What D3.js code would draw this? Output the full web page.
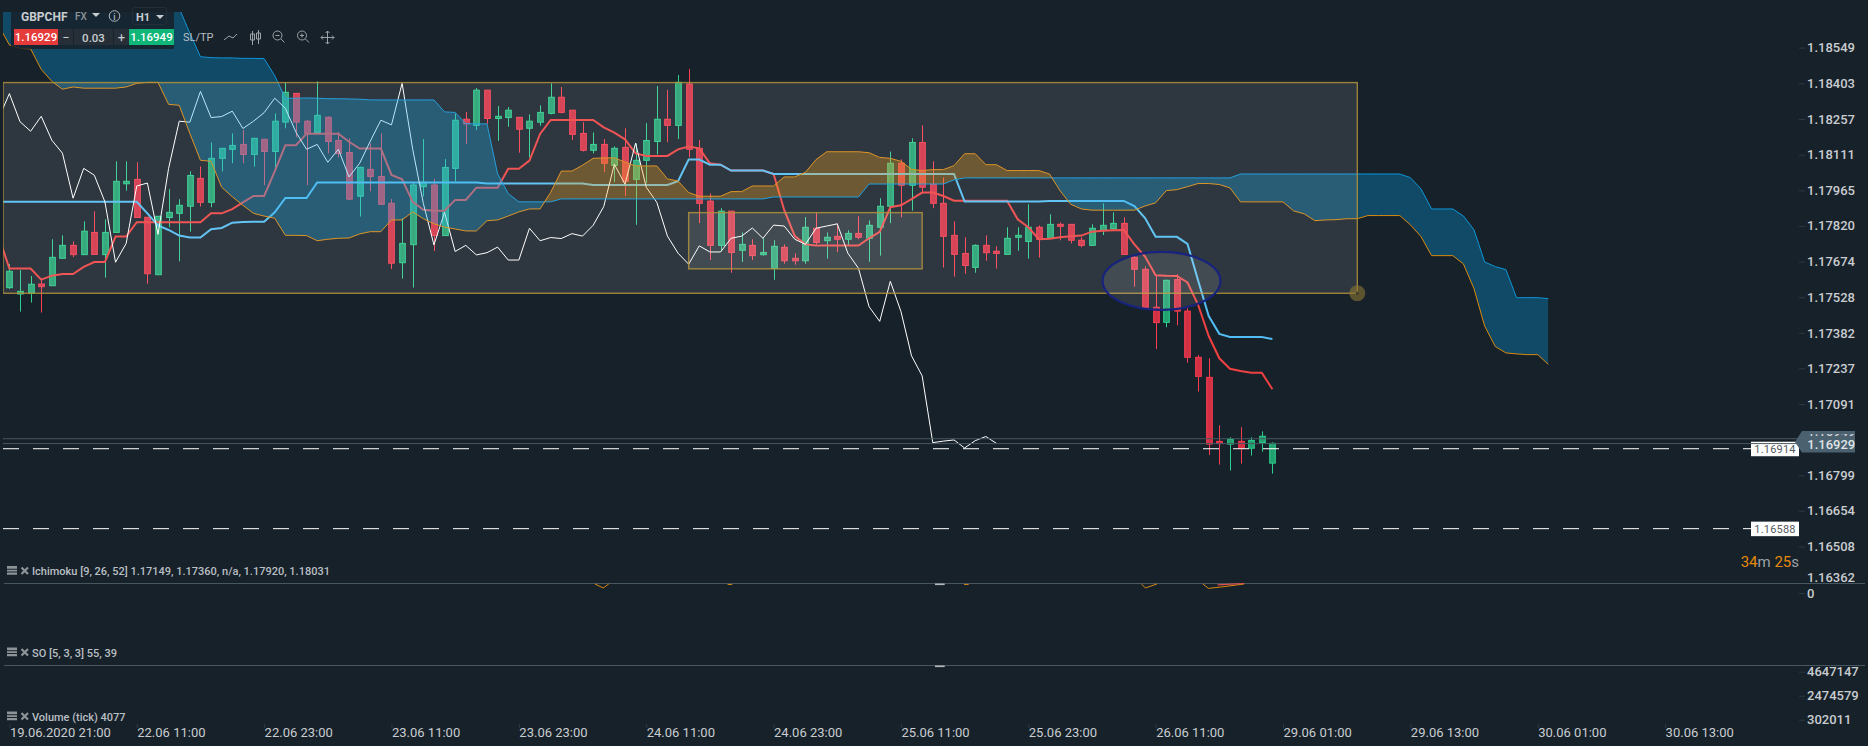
<!DOCTYPE html>
<html>
<head>
<meta charset="utf-8">
<script src="https://cdn.jsdelivr.net/npm/d3@7"></script>
<style>
    html, body { margin: 0; padding: 0; background: #17212a; overflow: hidden; }
    svg { display: block; }
    text { font-family: Roboto, sans-serif; }
</style>
</head>
<body>
<svg></svg>
<script>
// Defining variables
const width = 1868
const height = 746

// H1 candles, bar 0 is 19.06.2020 21:00
const opens = [1.17567,1.17541,1.17544,1.17582,1.17575,1.17687,1.17740,1.17702,1.17793,1.17702,
    1.17793,1.17992,1.18010,1.17855,1.17620,1.17854,1.17871,1.17900,1.18014,1.17916,
    1.18096,1.18133,1.18153,1.18112,1.18174,1.18124,1.18244,1.18362,1.18248,1.18202,
    1.18264,1.18169,1.18120,1.17941,1.18051,1.18022,1.17912,1.17669,1.17743,1.17980,
    1.17987,1.17780,1.18055,1.18256,1.18231,1.18375,1.18259,1.18263,1.18264,1.18219,
    1.18244,1.18280,1.18346,1.18293,1.18198,1.18129,1.18153,1.18067,1.18141,1.18010,
    1.18088,1.18165,1.18256,1.18231,1.18400,1.18137,1.17921,1.17740,1.17880,1.17720,
    1.17740,1.17702,1.17645,1.17732,1.17687,1.17677,1.17810,1.17759,1.17777,1.17765,
    1.17789,1.17769,1.17814,1.17900,1.18076,1.17986,1.18161,1.17990,1.17912,1.17781,
    1.17707,1.17650,1.17740,1.17716,1.17703,1.17773,1.17756,1.17814,1.17769,1.17826,
    1.17826,1.17761,1.17740,1.17801,1.17808,1.17830,1.17691,1.17642,1.17487,1.17425,
    1.17600,1.17471,1.17282,1.17200,1.16938,1.16927,1.16938,1.16910,1.16933,1.16849]
const closes = [1.17634,1.17552,1.17581,1.17571,1.17691,1.17740,1.17702,1.17798,1.17703,1.17793,
    1.18002,1.18002,1.17854,1.17624,1.17859,1.17875,1.17904,1.18026,1.17916,1.18096,
    1.18137,1.18149,1.18112,1.18178,1.18124,1.18248,1.18366,1.18244,1.18198,1.18272,
    1.18165,1.18116,1.17929,1.18059,1.18022,1.17908,1.17667,1.17748,1.17987,1.17998,
    1.17780,1.18059,1.18252,1.18237,1.18375,1.18259,1.18268,1.18293,1.18215,1.18248,
    1.18284,1.18346,1.18284,1.18194,1.18129,1.18153,1.18076,1.18137,1.18002,1.18088,
    1.18169,1.18256,1.18231,1.18407,1.18133,1.17912,1.17740,1.17880,1.17711,1.17744,
    1.17698,1.17711,1.17736,1.17677,1.17677,1.17814,1.17752,1.17773,1.17765,1.17789,
    1.17773,1.17822,1.17900,1.18076,1.17986,1.18161,1.17978,1.17912,1.17777,1.17703,
    1.17658,1.17740,1.17710,1.17707,1.17769,1.17781,1.17814,1.17765,1.17826,1.17818,
    1.17761,1.17740,1.17810,1.17822,1.17830,1.17703,1.17642,1.17487,1.17424,1.17597,
    1.17471,1.17282,1.17204,1.16927,1.16929,1.16946,1.16910,1.16942,1.16959,1.16930]
const highs = [1.17664,1.17639,1.17615,1.17599,1.17765,1.17781,1.17756,1.17838,1.17879,1.17846,
    1.18084,1.18084,1.18080,1.17855,1.17859,1.17970,1.17929,1.18043,1.18063,1.18161,
    1.18137,1.18198,1.18212,1.18178,1.18174,1.18280,1.18407,1.18362,1.18253,1.18411,
    1.18268,1.18204,1.18178,1.18062,1.18157,1.18198,1.17930,1.17851,1.17997,1.18175,
    1.18012,1.18093,1.18280,1.18286,1.18384,1.18375,1.18310,1.18306,1.18264,1.18276,
    1.18313,1.18403,1.18388,1.18293,1.18244,1.18202,1.18175,1.18145,1.18219,1.18157,
    1.18240,1.18392,1.18376,1.18437,1.18462,1.18171,1.17953,1.17892,1.17880,1.17793,
    1.17765,1.17769,1.17761,1.17744,1.17707,1.17856,1.17875,1.17793,1.17830,1.17802,
    1.17859,1.17842,1.17933,1.18124,1.18092,1.18178,1.18231,1.18084,1.18018,1.17838,
    1.17773,1.17744,1.17781,1.17736,1.17814,1.17814,1.17908,1.17822,1.17867,1.17834,
    1.17826,1.17773,1.17826,1.17912,1.17875,1.17855,1.17703,1.17654,1.17619,1.17600,
    1.17622,1.17483,1.17291,1.17278,1.17004,1.16955,1.16996,1.16955,1.16979,1.16934]
const lows = [1.17562,1.17469,1.17506,1.17465,1.17575,1.17687,1.17692,1.17702,1.17703,1.17608,
    1.17793,1.17964,1.17854,1.17583,1.17620,1.17814,1.17675,1.17796,1.17899,1.17896,
    1.18043,1.18076,1.18076,1.18062,1.17986,1.18055,1.18219,1.18182,1.17986,1.18202,
    1.18116,1.18100,1.17925,1.17858,1.17961,1.17908,1.17643,1.17604,1.17567,1.17940,
    1.17717,1.17780,1.18001,1.18154,1.18212,1.18237,1.18168,1.18225,1.18119,1.18100,
    1.18229,1.18276,1.18280,1.18171,1.18124,1.18116,1.18040,1.17999,1.17942,1.17824,
    1.17994,1.18112,1.18162,1.18175,1.18100,1.17831,1.17680,1.17716,1.17628,1.17672,
    1.17680,1.17698,1.17599,1.17665,1.17661,1.17665,1.17744,1.17686,1.17712,1.17740,
    1.17765,1.17673,1.17698,1.17831,1.17855,1.17882,1.17953,1.17892,1.17649,1.17612,
    1.17624,1.17628,1.17677,1.17645,1.17703,1.17718,1.17686,1.17690,1.17769,1.17761,
    1.17748,1.17732,1.17740,1.17782,1.17803,1.17703,1.17571,1.17487,1.17316,1.17405,
    1.17413,1.17260,1.17142,1.16882,1.16843,1.16819,1.16847,1.16880,1.16896,1.16806]

// Ichimoku series, first value of each is bar -1 (cut by the left edge of the chart)
const tenkan = [1.17776,
    1.17645,1.17645,1.17645,1.17600,1.17616,1.17623,1.17623,1.17652,1.17672,1.17672,
    1.17776,1.17776,1.17835,1.17835,1.17835,1.17835,1.17835,1.17835,1.17835,1.17871,
    1.17871,1.17888,1.17916,1.17942,1.17942,1.18043,1.18150,1.18150,1.18197,1.18197,
    1.18197,1.18197,1.18164,1.18136,1.18136,1.18136,1.18028,1.18010,1.17918,1.17886,
    1.17882,1.17882,1.17926,1.17926,1.17976,1.17976,1.17976,1.18053,1.18053,1.18087,
    1.18196,1.18253,1.18253,1.18253,1.18253,1.18253,1.18223,1.18201,1.18174,1.18116,
    1.18106,1.18106,1.18106,1.18133,1.18144,1.18137,1.18076,1.18070,1.18046,1.18046,
    1.18046,1.18046,1.18032,1.17885,1.17778,1.17744,1.17739,1.17739,1.17739,1.17739,
    1.17739,1.17769,1.17795,1.17896,1.17904,1.17929,1.17956,1.17956,1.17942,1.17923,
    1.17923,1.17923,1.17923,1.17923,1.17923,1.17847,1.17814,1.17765,1.17767,1.17773,
    1.17777,1.17780,1.17796,1.17800,1.17802,1.17803,1.17744,1.17694,1.17618,1.17616,
    1.17615,1.17588,1.17497,1.17369,1.17278,1.17235,1.17226,1.17219,1.17219,1.17151]
const kijun = [1.17918,
    1.17918,1.17918,1.17918,1.17918,1.17918,1.17918,1.17918,1.17918,1.17918,1.17918,
    1.17918,1.17918,1.17918,1.17871,1.17822,1.17803,1.17780,1.17772,1.17772,1.17806,
    1.17811,1.17833,1.17836,1.17837,1.17837,1.17875,1.17934,1.17934,1.17934,1.17997,
    1.17997,1.17997,1.17997,1.17997,1.17997,1.17997,1.17997,1.17997,1.17997,1.17997,
    1.17997,1.17997,1.17997,1.17997,1.17997,1.17993,1.17993,1.17993,1.17993,1.17993,
    1.17993,1.17993,1.17993,1.17993,1.17993,1.17987,1.17987,1.17987,1.17987,1.17987,
    1.17987,1.17987,1.17987,1.18003,1.18091,1.18091,1.18070,1.18070,1.18046,1.18046,
    1.18046,1.18046,1.18032,1.18032,1.18032,1.18032,1.18032,1.18032,1.18032,1.18032,
    1.18032,1.18032,1.18032,1.18032,1.18032,1.18032,1.18032,1.18032,1.18032,1.18032,
    1.17919,1.17919,1.17919,1.17919,1.17919,1.17919,1.17919,1.17919,1.17922,1.17922,
    1.17922,1.17922,1.17922,1.17922,1.17922,1.17922,1.17901,1.17852,1.17775,1.17775,
    1.17775,1.17746,1.17596,1.17451,1.17378,1.17365,1.17365,1.17365,1.17365,1.17357]
const chikou = [1.18261,
    1.18361,1.18246,1.18207,1.18268,1.18170,1.18117,1.17933,1.18055,1.18027,1.17918,
    1.17671,1.17748,1.17983,1.17995,1.17785,1.18055,1.18248,1.18244,1.18370,1.18263,
    1.18267,1.18289,1.18218,1.18248,1.18283,1.18342,1.18301,1.18203,1.18133,1.18153,
    1.18080,1.18133,1.18020,1.18076,1.18166,1.18252,1.18233,1.18403,1.18133,1.17912,
    1.17742,1.17875,1.17715,1.17740,1.17701,1.17710,1.17733,1.17680,1.17680,1.17810,
    1.17759,1.17772,1.17768,1.17788,1.17778,1.17822,1.17899,1.18072,1.17990,1.18158,
    1.17978,1.17916,1.17778,1.17708,1.17663,1.17738,1.17713,1.17713,1.17769,1.17778,
    1.17811,1.17769,1.17823,1.17819,1.17765,1.17744,1.17810,1.17819,1.17828,1.17708,
    1.17646,1.17489,1.17429,1.17593,1.17470,1.17288,1.17206,1.16933,1.16939,1.16944,
    1.16911,1.16941,1.16958,1.16930]
const spanBlue = [1.18826,
    1.18826,1.18826,1.18826,1.18826,1.18826,1.18826,1.18826,1.18826,1.18826,1.18826,
    1.18826,1.18826,1.18826,1.18826,1.18826,1.18785,1.18710,1.18608,1.18512,1.18508,
    1.18507,1.18507,1.18505,1.18505,1.18504,1.18434,1.18342,1.18342,1.18343,1.18342,
    1.18340,1.18340,1.18339,1.18338,1.18335,1.18335,1.18335,1.18335,1.18335,1.18335,
    1.18335,1.18286,1.18284,1.18238,1.18237,1.18237,1.18032,1.17952,1.17918,1.17918,
    1.17918,1.17918,1.17930,1.17930,1.17930,1.17930,1.17930,1.17930,1.17930,1.17930,
    1.17930,1.17930,1.17930,1.17930,1.17930,1.17930,1.17930,1.17930,1.17930,1.17930,
    1.17930,1.17930,1.17938,1.17938,1.17938,1.17938,1.17938,1.17938,1.17938,1.17938,
    1.17938,1.17991,1.17991,1.17991,1.17991,1.17991,1.17991,1.17991,1.17991,1.18008,
    1.18016,1.18016,1.18016,1.18016,1.18016,1.18016,1.18016,1.18016,1.18016,1.18016,
    1.18016,1.18016,1.18016,1.18016,1.18016,1.18016,1.18016,1.18016,1.18016,1.18016,
    1.18016,1.18016,1.18016,1.18016,1.18016,1.18016,1.18032,1.18032,1.18032,1.18032,
    1.18032,1.18032,1.18032,1.18032,1.18032,1.18032,1.18032,1.18032,1.18032,1.18032,
    1.18032,1.18032,1.18017,1.17971,1.17889,1.17889,1.17889,1.17860,1.17803,1.17672,
    1.17653,1.17641,1.17526,1.17526,1.17526,1.17522]
const spanOrange = [1.18639,
    1.18560,1.18546,1.18544,1.18460,1.18411,1.18379,1.18388,1.18383,1.18383,1.18383,
    1.18383,1.18388,1.18403,1.18407,1.18407,1.18317,1.18313,1.18198,1.18088,1.18084,
    1.17978,1.17939,1.17904,1.17871,1.17860,1.17851,1.17781,1.17781,1.17780,1.17759,
    1.17765,1.17769,1.17770,1.17787,1.17796,1.17796,1.17844,1.17844,1.17877,1.17849,
    1.17828,1.17815,1.17807,1.17799,1.17799,1.17841,1.17844,1.17860,1.17877,1.17889,
    1.17889,1.17957,1.18044,1.18044,1.18068,1.18096,1.18098,1.18098,1.18081,1.18065,
    1.18065,1.18065,1.18012,1.18003,1.17956,1.17941,1.17941,1.17941,1.17960,1.17960,
    1.17983,1.17983,1.17983,1.18020,1.18020,1.18039,1.18091,1.18123,1.18123,1.18123,
    1.18123,1.18119,1.18100,1.18096,1.18084,1.18051,1.18046,1.18050,1.18050,1.18066,
    1.18115,1.18115,1.18070,1.18070,1.18046,1.18046,1.18046,1.18046,1.18032,1.17963,
    1.17908,1.17889,1.17884,1.17884,1.17884,1.17884,1.17884,1.17901,1.17914,1.17964,
    1.17968,1.17980,1.17993,1.17993,1.17989,1.17975,1.17918,1.17918,1.17918,1.17918,
    1.17918,1.17881,1.17869,1.17841,1.17844,1.17845,1.17849,1.17849,1.17862,1.17862,
    1.17862,1.17862,1.17824,1.17776,1.17698,1.17698,1.17698,1.17664,1.17562,1.17410,
    1.17326,1.17300,1.17296,1.17293,1.17293,1.17253]

// Axis labels
const priceTicks = [1.18549,1.18403,1.18257,1.18111,1.17965,1.17820,1.17674,1.17528,1.17382,1.17237,1.17091,1.16799,1.16654,1.16508,1.16362]
const dateBars = [0,12,24,36,48,60,72,84,96,108,120,132,144,156]
const dateLabels = ['19.06.2020 21:00','22.06 11:00','22.06 23:00','23.06 11:00','23.06 23:00','24.06 11:00','24.06 23:00','25.06 11:00','25.06 23:00','26.06 11:00','29.06 01:00','29.06 13:00','30.06 01:00','30.06 13:00']
const volumeTicks = [4647147,2474579,302011]

// Price levels
const bid = 1.16929
const ask = 1.16949
const dashedLevels = [1.16908,1.16581]
const dashedLabels = ['1.16914','1.16588']

// Drawn shapes on the chart: [first bar, last bar, top price, bottom price]
const bigBox = [-0.6,127,1.18406,1.17544]
const smallBox = [64,86,1.17874,1.17644]
const circledBars = [103,114.1,1.17713,1.17476]

// What is left of the ichimoku lines in the first lower pane: [bar, value]
const paneOrange = [
    [[55.17,0.95],[55.95,0.53],[56.47,0.95]],
    [[67.67,0.9],[68.1,0.9]],
    [[89.95,0.9],[90.38,0.9]],
    [[106.65,0.95],[107.04,0.53],[108.12,0.95]],
    [[112.45,0.95],[112.97,0.49],[114.17,0.63],[116.34,0.95]]
]
const paneRed = [[113.83,0.85],[116.34,1]]

// Creating svg canvas
const svg = d3.select('svg')
                .attr('width', width)
                .attr('height', height)

// Scales
const x = d3.scaleLinear().domain([0, 119]).range([9.4, 1272.4])
const y = d3.scaleLinear().domain([1.18257, 1.17091]).range([119, 404])
const paneY = d3.scaleLinear().domain([0, 1]).range([593, 583.5])
const volumeY = d3.scaleLinear().domain([302011, 4647147]).range([719.7, 671.7])

const defs = svg.append('defs')
defs.append('clipPath').attr('id', 'chart-clip')
    .append('rect').attr('x', 3).attr('y', 12).attr('width', 1796).attr('height', 571)

// Line through one series, bar number = array index - 1
let seriesLine = d3.line().x((d, i) => x(i - 1)).y(d => y(d))

const chart = svg.append('g').attr('clip-path', 'url(#chart-clip)')

let drawCandles = () => {
    let bars = opens.map((o, i) => ({o: o, c: closes[i], h: highs[i], l: lows[i], i: i}))
    let upColor = '#2ccf8d'
    let downColor = '#fb3d50'

    chart.selectAll('line.wick')
        .data(bars)
        .enter()
        .append('line')
        .attr('class', 'wick')
        .attr('x1', d => Math.round(x(d.i)) + 0.5)
        .attr('x2', d => Math.round(x(d.i)) + 0.5)
        .attr('y1', d => y(d.h))
        .attr('y2', d => y(d.l))
        .attr('stroke', d => d.c >= d.o ? upColor : downColor)
        .attr('stroke-width', 1)

    chart.selectAll('rect.body')
        .data(bars)
        .enter()
        .append('rect')
        .attr('class', 'body')
        .attr('x', d => Math.round(x(d.i)) - 2.3)
        .attr('width', 5.6)
        .attr('y', d => y(Math.max(d.o, d.c)))
        .attr('height', d => Math.max(1, y(Math.min(d.o, d.c)) - y(Math.max(d.o, d.c))))
        .attr('fill', d => d.c >= d.o ? '#22a070' : '#d23045')
        .attr('stroke', d => d.c >= d.o ? upColor : downColor)
        .attr('stroke-width', 1)
}

let drawLines = () => {
    chart.append('path').datum(tenkan).attr('d', seriesLine)
        .attr('fill', 'none').attr('stroke', '#ef4141').attr('stroke-width', 2)
    chart.append('path').datum(kijun).attr('d', seriesLine)
        .attr('fill', 'none').attr('stroke', '#52bdf2').attr('stroke-width', 2)
    chart.append('path').datum(chikou).attr('d', seriesLine)
        .attr('fill', 'none').attr('stroke', '#ffffff').attr('stroke-width', 1)
}

let drawCloud = () => {
    let band = spanBlue.map((b, i) => ({b: b, o: spanOrange[i], i: i}))
    let bandArea = d3.area()
                    .x(d => x(d.i - 1))
                    .y0(d => y(d.b))
                    .y1(d => y(d.o))

    // Blue where the blue span is on top, orange where it is below
    defs.append('clipPath').attr('id', 'under-blue')
        .append('path')
        .datum(band)
        .attr('d', d3.area().x(d => x(d.i - 1)).y0(height).y1(d => y(d.b)))
    defs.append('clipPath').attr('id', 'over-blue')
        .append('path')
        .datum(band)
        .attr('d', d3.area().x(d => x(d.i - 1)).y0(-300).y1(d => y(d.b)))

    chart.append('g').attr('clip-path', 'url(#under-blue)')
        .append('path').datum(band).attr('d', bandArea)
        .attr('fill', 'rgb(3,170,242)').attr('fill-opacity', 0.3)
    chart.append('g').attr('clip-path', 'url(#over-blue)')
        .append('path').datum(band).attr('d', bandArea)
        .attr('fill', 'rgb(255,160,0)').attr('fill-opacity', 0.3)

    chart.append('path').datum(spanBlue).attr('d', seriesLine)
        .attr('fill', 'none').attr('stroke', '#0b96dc').attr('stroke-width', 1)
    chart.append('path').datum(spanOrange).attr('d', seriesLine)
        .attr('fill', 'none').attr('stroke', '#d9890f').attr('stroke-width', 1)
}

let drawShapes = () => {
    let box = (b) => chart.append('rect')
                    .attr('x', x(b[0]))
                    .attr('y', y(b[2]))
                    .attr('width', x(b[1]) - x(b[0]))
                    .attr('height', y(b[3]) - y(b[2]))
                    .attr('fill', '#ffffff')
                    .attr('fill-opacity', 0.1)
                    .attr('stroke', '#b3923c')
                    .attr('stroke-opacity', 0.85)
                    .attr('stroke-width', 1.4)
    box(bigBox)
    box(smallBox)

    // Corner handle of the big box
    chart.append('circle')
        .attr('cx', x(bigBox[1]))
        .attr('cy', y(bigBox[3]))
        .attr('r', 8)
        .attr('fill', '#8a7434')
        .attr('fill-opacity', 0.6)
    chart.append('circle')
        .attr('cx', x(bigBox[1]))
        .attr('cy', y(bigBox[3]))
        .attr('r', 1.5)
        .attr('fill', '#3f3a2a')

    chart.append('ellipse')
        .attr('cx', (x(circledBars[0]) + x(circledBars[1])) / 2)
        .attr('cy', (y(circledBars[2]) + y(circledBars[3])) / 2)
        .attr('rx', (x(circledBars[1]) - x(circledBars[0])) / 2)
        .attr('ry', (y(circledBars[3]) - y(circledBars[2])) / 2)
        .attr('fill', '#ffffff')
        .attr('fill-opacity', 0.1)
        .attr('stroke', '#17237c')
        .attr('stroke-width', 2.2)
}

let drawLevels = () => {
    // Bid and ask lines
    svg.selectAll('line.quote')
        .data([ask, bid])
        .enter()
        .append('line')
        .attr('class', 'quote')
        .attr('x1', 3)
        .attr('x2', 1799)
        .attr('y1', d => y(d))
        .attr('y2', d => y(d))
        .attr('stroke', '#47575f')
        .attr('stroke-width', 1)

    svg.selectAll('line.level')
        .data(dashedLevels)
        .enter()
        .append('line')
        .attr('class', 'level')
        .attr('x1', 3)
        .attr('x2', 1751)
        .attr('y1', d => y(d))
        .attr('y2', d => y(d))
        .attr('stroke', '#ffffff')
        .attr('stroke-width', 1)
        .attr('stroke-dasharray', '16 14')

    svg.selectAll('rect.level-tag')
        .data(dashedLevels)
        .enter()
        .append('rect')
        .attr('class', 'level-tag')
        .attr('x', 1751)
        .attr('width', 48)
        .attr('y', d => y(d) - 7)
        .attr('height', 14.5)
        .attr('fill', '#ffffff')

    svg.selectAll('text.level-text')
        .data(dashedLevels)
        .enter()
        .append('text')
        .attr('class', 'level-text')
        .attr('x', 1775)
        .attr('y', d => y(d) + 4)
        .attr('text-anchor', 'middle')
        .attr('font-size', 11)
        .attr('letter-spacing', 0.2)
        .attr('fill', '#555b60')
        .text((d, i) => dashedLabels[i])

    // The bid line runs over the upper tag
    svg.append('line')
        .attr('x1', 1751).attr('x2', 1799)
        .attr('y1', y(bid)).attr('y2', y(bid))
        .attr('stroke', '#47575f')

    // Current price flag, the ask label only just shows above the bid label
    svg.append('path')
        .attr('d', 'M1795,442 L1802,431 L1855,431 L1855,452.5 L1802,452.5 Z')
        .attr('fill', '#4b616f')
    defs.append('clipPath').attr('id', 'flag-clip')
        .append('rect').attr('x', 1802).attr('y', 434).attr('width', 53).attr('height', 2.2)
    svg.append('text')
        .attr('x', 1807.3).attr('y', 436)
        .attr('clip-path', 'url(#flag-clip)')
        .attr('font-size', 13).attr('font-weight', 500).attr('fill', '#d0d4d7')
        .text(d3.format('.5f')(ask))
    svg.append('text')
        .attr('x', 1807.3).attr('y', 449)
        .attr('font-size', 13).attr('font-weight', 500).attr('fill', '#dfe3e6')
        .text(d3.format('.5f')(bid))

    // Time left in this candle
    let timer = svg.append('text')
                    .attr('x', 1799).attr('y', 567)
                    .attr('text-anchor', 'end')
                    .attr('font-size', 15)
                    .attr('fill', '#e58a0c')
    timer.append('tspan').text('34')
    timer.append('tspan').attr('fill', '#9aa1a6').text('m ')
    timer.append('tspan').text('25')
    timer.append('tspan').attr('fill', '#9aa1a6').text('s')
}

let drawPanes = () => {
    svg.selectAll('line.pane')
        .data([583.5, 665.5])
        .enter()
        .append('line')
        .attr('class', 'pane')
        .attr('x1', 4)
        .attr('x2', 1865)
        .attr('y1', d => d)
        .attr('y2', d => d)
        .attr('stroke', '#47575f')
        .attr('stroke-width', 1)

    // Slider grips in the pane borders
    svg.selectAll('rect.grip')
        .data([583.5, 665.5])
        .enter()
        .append('rect')
        .attr('class', 'grip')
        .attr('x', 935)
        .attr('y', d => d)
        .attr('width', 9.7)
        .attr('height', 1.6)
        .attr('fill', '#b4b8ba')

    let paneLine = d3.line().x(d => x(d[0])).y(d => paneY(d[1]))
    svg.selectAll('path.pane-orange')
        .data(paneOrange)
        .enter()
        .append('path')
        .attr('class', 'pane-orange')
        .attr('d', paneLine)
        .attr('fill', 'none')
        .attr('stroke', '#d9890f')
        .attr('stroke-width', 1)
    svg.append('path').datum(paneRed).attr('d', paneLine)
        .attr('fill', 'none').attr('stroke', '#e0504f').attr('stroke-width', 1.2)

    // Legends with their small icons
    let legends = [
        {y: 571, t: 'Ichimoku [9, 26, 52] 1.17149, 1.17360, n/a, 1.17920, 1.18031'},
        {y: 652.5, t: 'SO [5, 3, 3] 55, 39'},
        {y: 716.5, t: 'Volume (tick) 4077'}
    ]
    let legend = svg.selectAll('g.legend')
                    .data(legends)
                    .enter()
                    .append('g')
                    .attr('class', 'legend')
                    .attr('transform', d => 'translate(0,' + d.y + ')')
    legend.append('path')
        .attr('d', 'M7,-5 h10 v2.8 h-10 z M7,-1.2 h10 v1.6 h-10 z M7,1.6 h10 v2.2 h-10 z')
        .attr('fill', '#8d9498')
    legend.append('path')
        .attr('d', 'M21.5,-3.5 L28,3 M28,-3.5 L21.5,3')
        .attr('stroke', '#8d9498')
        .attr('stroke-width', 2.2)
    legend.append('text')
        .attr('x', 32)
        .attr('y', 4)
        .attr('font-size', 11)
        .attr('font-weight', 500)
        .attr('fill', '#b9bfc3')
        .text(d => d.t)
}

let generateAxes = () => {
    let styleAxis = (g) => {
        g.select('.domain').remove()
        g.selectAll('.tick line').attr('stroke', '#2b3942')
        g.selectAll('.tick text')
            .attr('font-family', 'Roboto, sans-serif')
            .attr('font-size', 13)
            .attr('font-weight', 500)
            .attr('fill', '#c9cdd0')
    }

    let priceAxis = d3.axisRight(y)
                    .tickValues(priceTicks)
                    .tickFormat(d3.format('.5f'))
                    .tickSize(6)
                    .tickPadding(2)
    let priceG = svg.append('g')
                    .call(priceAxis)
                    .attr('transform', 'translate(1799,0)')
                    .call(styleAxis)
    // Lowest label is pushed up by the pane border
    priceG.selectAll('.tick')
        .filter(d => d === 1.16362)
        .call(t => t.select('line').remove())
        .select('text')
        .attr('y', -5)
        .attr('x', 8)

    let zeroAxis = d3.axisRight(paneY).tickValues([0]).tickFormat(d3.format('d')).tickSize(6).tickPadding(2)
    svg.append('g').call(zeroAxis).attr('transform', 'translate(1799,0)').call(styleAxis)

    let volumeAxis = d3.axisRight(volumeY)
                    .tickValues(volumeTicks)
                    .tickFormat(d3.format('d'))
                    .tickSize(6)
                    .tickPadding(2)
    svg.append('g').call(volumeAxis).attr('transform', 'translate(1799,0)').call(styleAxis)

    let dateAxis = d3.axisBottom(x)
                    .tickValues(dateBars)
                    .tickFormat((d, i) => dateLabels[i])
                    .tickSize(4)
                    .tickPadding(0)
    let dateG = svg.append('g')
                    .call(dateAxis)
                    .attr('transform', 'translate(0,724)')
                    .call(styleAxis)
    dateG.selectAll('.tick text').attr('text-anchor', 'start').attr('font-weight', 400)
}

let drawToolbar = () => {
    let bar = svg.append('g')
    bar.append('rect').attr('x', 0).attr('y', 0).attr('width', 330).attr('height', 12).attr('fill', '#17212a')
    bar.append('rect').attr('x', 11).attr('y', 12).attr('width', 163).attr('height', 37)
        .attr('fill', '#17212a').attr('fill-opacity', 0.85)

    let label = (t, lx, ly, size, weight, color, anchor) => bar.append('text')
                    .attr('x', lx).attr('y', ly)
                    .attr('font-size', size)
                    .attr('font-weight', weight)
                    .attr('fill', color)
                    .attr('text-anchor', anchor || 'start')
                    .text(t)

    label('GBPCHF', 21, 21, 12, 700, '#c9cdd0')
    label('FX', 75, 20, 10, 500, '#8d9498')
    bar.append('path').attr('d', 'M92,13 h8 l-4,4 z').attr('fill', '#c9cdd0')
    bar.append('circle').attr('cx', 114.5).attr('cy', 16).attr('r', 5.3)
        .attr('fill', 'none').attr('stroke', '#b0b6ba')
    label('i', 114.5, 19.5, 9, 500, '#b0b6ba', 'middle')
    bar.append('rect').attr('x', 132.5).attr('y', 7.5).attr('width', 34).attr('height', 17).attr('rx', 2.5)
        .attr('fill', 'none').attr('stroke', '#232f37')
    label('H1', 136, 21, 11, 700, '#c9cdd0')
    bar.append('path').attr('d', 'M156,15 h8 l-4,4 z').attr('fill', '#c9cdd0')

    bar.append('rect').attr('x', 14).attr('y', 29).attr('width', 44).attr('height', 16).attr('fill', '#e63b3b')
    label('1.16929', 36, 41, 11.5, 500, '#ffffff', 'middle')
    bar.append('rect').attr('x', 58).attr('y', 29).attr('width', 71).attr('height', 16).attr('fill', '#262f37')
    bar.append('path').attr('d', 'M73.5,29 v16 M113.5,29 v16').attr('stroke', '#17212a')
    label('\u2212', 66, 42, 13, 400, '#c9cdd0', 'middle')
    label('0.03', 93.5, 42, 11.5, 500, '#c9cdd0', 'middle')
    label('+', 121.5, 42, 13, 400, '#c9cdd0', 'middle')
    bar.append('rect').attr('x', 129).attr('y', 29).attr('width', 45).attr('height', 16).attr('fill', '#10b578')
    label('1.16949', 151.5, 41, 11.5, 500, '#ffffff', 'middle')
    label('SL/TP', 183, 41, 11, 400, '#b9bfc3')

    // Tool icons
    let icons = bar.append('g').attr('fill', 'none').attr('stroke', '#9da4a8').attr('stroke-width', 1)
    icons.append('path').attr('d', 'M224,40 L229,36 L233,38 L237,34')
    icons.append('path').attr('d', 'M252.5,31 v14 M258.5,30 v14 M250.5,34 h4 v6 h-4 z M256.5,33 h4 v6 h-4 z')
    icons.append('circle').attr('cx', 277.5).attr('cy', 35.5).attr('r', 4.5)
    icons.append('path').attr('d', 'M281,39 L284.5,42.5 M275.5,35.5 h4')
    icons.append('circle').attr('cx', 302).attr('cy', 35.5).attr('r', 4.5)
    icons.append('path').attr('d', 'M305.5,39 L309,42.5 M300,35.5 h4 M302,33.5 v4')
    icons.append('path').attr('d', 'M327.5,31 v13 M321,37.5 h13 M325.5,33 l2,-2 l2,2 M325.5,42 l2,2 l2,-2 M323,35.5 l-2,2 l2,2 M332,35.5 l2,2 l-2,2')
}

drawCandles()
drawLines()
drawCloud()
drawShapes()
drawLevels()
drawPanes()
generateAxes()
drawToolbar()
</script>
</body>
</html>
